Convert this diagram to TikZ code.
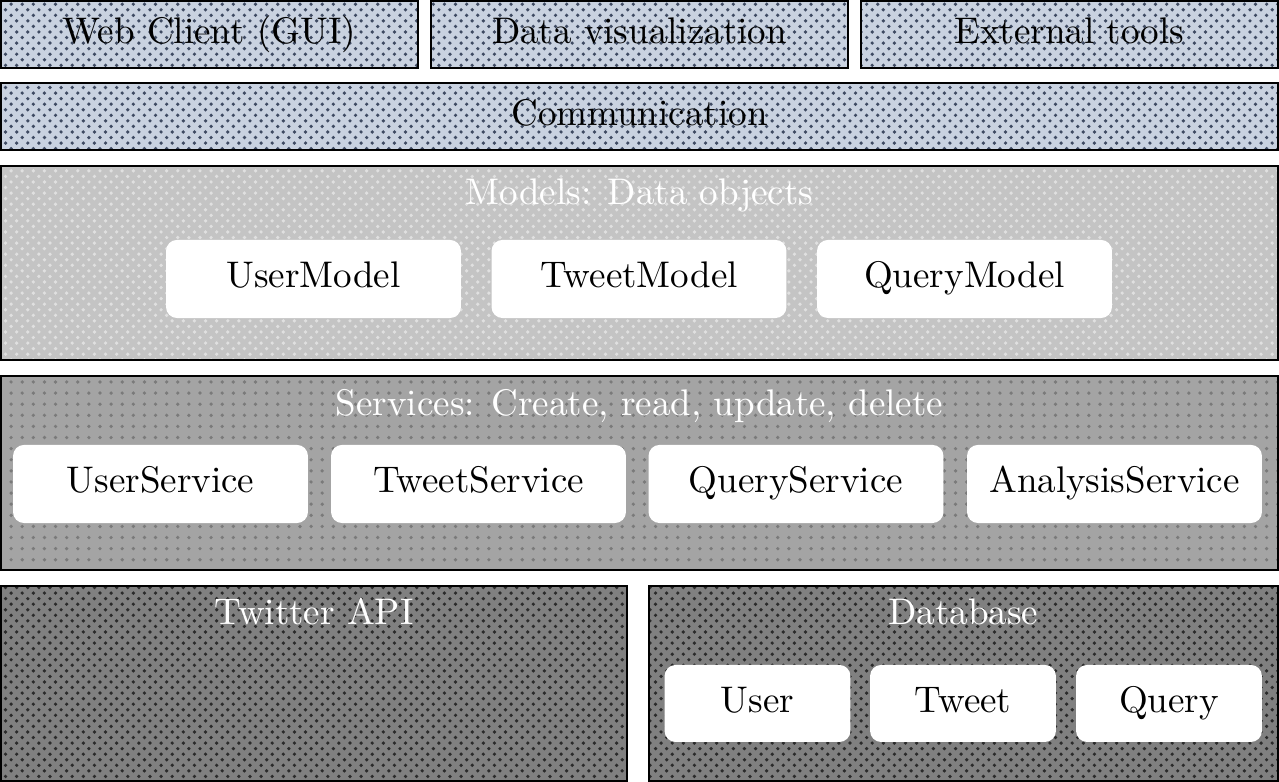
\documentclass[tikz,border=0pt]{standalone}
\usepackage{tikz}
\usetikzlibrary{patterns}

\definecolor{guiback}{HTML}{C9D2E0}
\definecolor{guidots}{HTML}{3E4A62}
\definecolor{modelback}{HTML}{C4C4C4}
\definecolor{modeldots}{HTML}{E0E0E0}
\definecolor{serviceback}{HTML}{A4A4A4}
\definecolor{servicedots}{HTML}{7A7A7A}
\definecolor{databack}{HTML}{808080}
\definecolor{datadots}{HTML}{2A2A2A}

\begin{document}
\begin{tikzpicture}[x=0.27pt,y=-0.27pt,
    every node/.style={text height=6.83pt, text depth=2.2pt}]
  \tikzset{LayerStyle/.style = {
    shape         = rectangle,
    draw          = black,
    line width    = 0.6pt,
    inner sep     = 0pt,
    outer sep     = 0pt,
    text          = black,
    minimum width = 344.8pt,
    minimum height= 18.1pt
    }
  }
  \tikzset{GuiStyle/.style = {
    LayerStyle,
    preaction     = {fill=guiback},
    pattern       = crosshatch dots,
    pattern color = guidots
    }
  }
  \tikzset{TitleStyle/.style = {
    text          = white,
    text depth    = 0pt,
    inner sep     = 0pt
    }
  }
  \tikzset{ItemStyle/.style = {
    shape         = rectangle,
    rounded corners = 3pt,
    fill          = white,
    text          = black,
    inner sep     = 0pt,
    minimum width = 79.65pt,
    minimum height= 21.1pt
    }
  }

  \useasboundingbox (0,0) rectangle (1279,782);

  % client side
  \node[GuiStyle, minimum width=112.6pt](Web) at (209.5, 34.5) {Web Client (GUI)};
  \node[GuiStyle, minimum width=112.6pt](Vis) at (639.5, 34.5) {Data visualization};
  \node[GuiStyle, minimum width=112.6pt](Ext) at (1069.5, 34.5) {External tools};
  \node[GuiStyle](Com) at (639.5, 116.5) {Communication};

  % models
  \node[LayerStyle, minimum height=52.4pt, preaction={fill=modelback},
        pattern=crosshatch dots, pattern color=modeldots](Models) at (639.5, 263) {};
  \node[TitleStyle](ModelsT) at (639.5, 192) {Models: Data objects};
  \node[ItemStyle](UM) at (313.5, 279) {UserModel};
  \node[ItemStyle](TM) at (639, 279) {TweetModel};
  \node[ItemStyle](QM) at (964.5, 279) {QueryModel};

  % services
  \node[LayerStyle, minimum height=52.4pt, preaction={fill=serviceback},
        pattern=dots, pattern color=servicedots](Services) at (639.5, 473) {};
  \node[TitleStyle](ServicesT) at (639.5, 403) {Services: Create, read, update, delete};
  \node[ItemStyle](US) at (160.5, 484) {UserService};
  \node[ItemStyle](TS) at (478.5, 484) {TweetService};
  \node[ItemStyle](QS) at (796, 484) {QueryService};
  \node[ItemStyle](AS) at (1114.5, 484) {AnalysisService};

  % data sources
  \node[LayerStyle, minimum width=169pt, minimum height=52.7pt, preaction={fill=databack},
        pattern=crosshatch dots, pattern color=datadots](Api) at (314, 683.5) {};
  \node[TitleStyle](ApiT) at (314, 612) {Twitter API};
  \node[LayerStyle, minimum width=169.8pt, minimum height=52.7pt, preaction={fill=databack},
        pattern=crosshatch dots, pattern color=datadots](Db) at (963.5, 683.5) {};
  \node[TitleStyle](DbT) at (963.5, 612) {Database};
  \node[ItemStyle, minimum width=50.2pt, minimum height=20.8pt](U) at (757.5, 703.5) {User};
  \node[ItemStyle, minimum width=50.2pt, minimum height=20.8pt](T) at (963, 703.5) {Tweet};
  \node[ItemStyle, minimum width=50.2pt, minimum height=20.8pt](Q) at (1169, 703.5) {Query};

\end{tikzpicture}
\end{document}
